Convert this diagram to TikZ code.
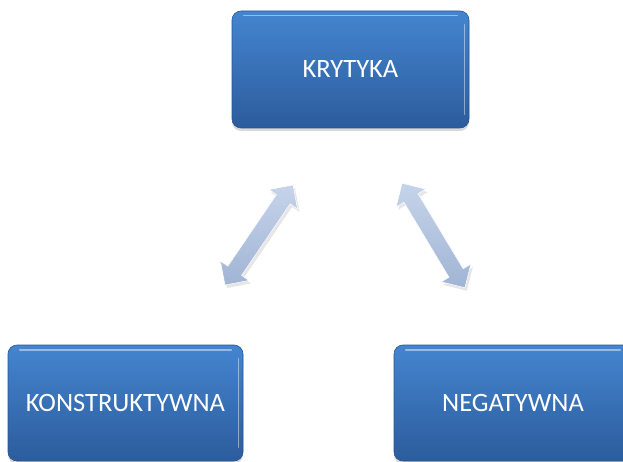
\documentclass[tikz,border=0pt]{standalone}
\usepackage{fontspec}
\setmainfont{Carlito}
\usetikzlibrary{shapes.arrows,shadows}
\definecolor{boxtop}{RGB}{68,133,208}
\definecolor{boxbot}{RGB}{44,92,156}
\definecolor{boxedge}{RGB}{40,84,145}
\definecolor{arrtop}{RGB}{198,212,234}
\definecolor{arrbot}{RGB}{160,180,212}
\tikzset{
  blockbox/.style={rounded corners=9pt, top color=boxtop, bottom color=boxbot,
    draw=boxedge, line width=0.6pt, text=white, inner sep=0pt,
    font=\fontsize{26.5}{31}\selectfont,
    drop shadow={opacity=0.3, shadow xshift=0pt, shadow yshift=-3pt}},
  gloss/.style={white, opacity=0.45, line width=1.6pt, line cap=round},
  dblarrow/.style={double arrow, double arrow head extend=9pt,
    text height=8pt, text depth=8pt, text width=0pt,
    inner sep=0pt, top color=arrtop, bottom color=arrbot, draw=white, line width=0.5pt,
    drop shadow={opacity=0.2, shadow xshift=2pt, shadow yshift=-3pt}}
}
\begin{document}
\begin{tikzpicture}[x=1pt,y=-1pt]
\useasboundingbox (0,0) rectangle (623,462);
\node[blockbox, minimum width=237pt, minimum height=117pt] (krytyka) at (350.5,69.5) {KRYTYKA};
\node[blockbox, minimum width=235pt, minimum height=116pt] (konstr) at (125.5,403) {KONSTRUKTYWNA};
\node[blockbox, minimum width=238pt, minimum height=116pt] (negat) at (513,403) {NEGATYWNA};
\foreach \n in {krytyka,konstr,negat}{
  \draw[gloss] ([xshift=12pt,yshift=-5pt]\n.north west) -- ([xshift=-12pt,yshift=-5pt]\n.north east);
  \draw[gloss] ([xshift=-5pt,yshift=-14pt]\n.north east) -- ([xshift=-5pt,yshift=14pt]\n.south east);
}
\node[dblarrow, rotate=55.8, minimum height=121pt] (arrL) at (259,235) {};
\node[dblarrow, rotate=-59, minimum height=122pt] (arrR) at (433.5,235.5) {};
\end{tikzpicture}
\end{document}
